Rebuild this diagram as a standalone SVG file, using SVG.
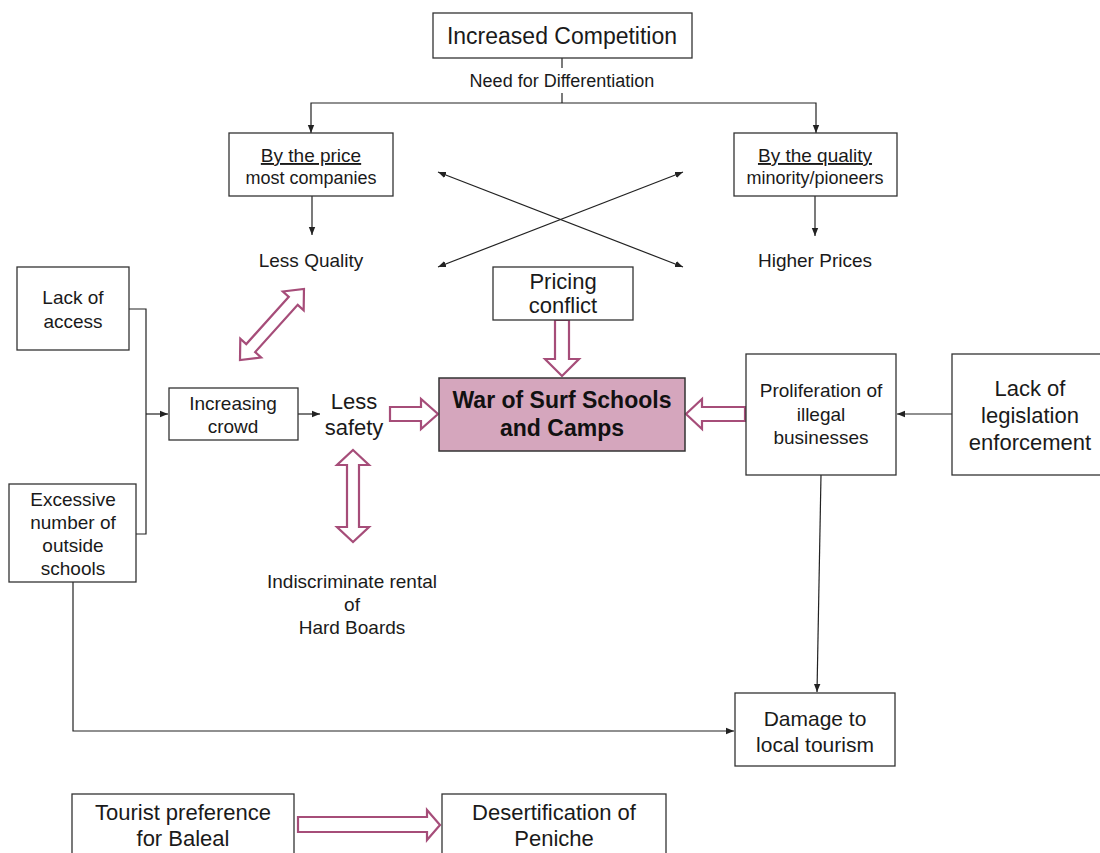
<svg xmlns="http://www.w3.org/2000/svg" width="1100" height="853" viewBox="0 0 1100 853">
  <style>
    .box { fill: #ffffff; stroke: #333333; stroke-width: 1.3; }
    .core { fill: #d5a6bd; stroke: #333333; stroke-width: 1.5; }
    .t { font-family: "Liberation Sans", Arial, sans-serif; fill: #1a1a1a; text-anchor: middle; }
    .tb { font-family: "Liberation Sans", Arial, sans-serif; fill: #111111; text-anchor: middle; font-weight: bold; }
    .ln { fill: none; stroke: #222222; stroke-width: 1.2; }
    .hollow { fill: #ffffff; stroke: #a64d79; stroke-width: 2.2; stroke-linejoin: miter; }
  </style>
  <defs>
    <marker id="ah" viewBox="0 0 10 10" refX="10" refY="5" markerWidth="8" markerHeight="8" markerUnits="userSpaceOnUse" orient="auto-start-reverse">
      <path d="M0,1 L10,5 L0,9 Z" fill="#222222"/>
    </marker>
  </defs>
  <rect width="1100" height="853" fill="#ffffff"/>

  <!-- connectors -->
  <g id="connectors">
    <path class="ln" d="M562,58 V68"/>
    <path class="ln" d="M562,93 V103"/>
    <path class="ln" d="M311,133 V103 H816 V133" marker-start="url(#ah)" marker-end="url(#ah)"/>
    <path class="ln" d="M312,196 V235" marker-end="url(#ah)"/>
    <path class="ln" d="M815,196 V236" marker-end="url(#ah)"/>
    <path class="ln" d="M438,172 L683,267" marker-start="url(#ah)" marker-end="url(#ah)"/>
    <path class="ln" d="M438,267 L683,172" marker-start="url(#ah)" marker-end="url(#ah)"/>
    <path class="ln" d="M129,309 H146 V534 H136"/>
    <path class="ln" d="M146,414 H168" marker-end="url(#ah)"/>
    <path class="ln" d="M298,414 H320" marker-end="url(#ah)"/>
    <path class="ln" d="M952,414 H897" marker-end="url(#ah)"/>
    <path class="ln" d="M821,475 L817,692" marker-end="url(#ah)"/>
    <path class="ln" d="M73,582 V731 H734" marker-end="url(#ah)"/>

    <!-- hollow block arrows -->
    <polygon class="hollow" points="390,407 421,407 421,399 438,414 421,429 421,421 390,421"/>
    <polygon class="hollow" points="745,407 702,407 702,399 686,414 702,429 702,421 745,421"/>
    <polygon class="hollow" points="555,320 569,320 569,359 579,359 562,376 545,359 555,359"/>
    <polygon class="hollow" points="298,817 427,817 427,810 440,825 427,840 427,832 298,832"/>
    <polygon class="hollow" points="353,450 369,465 359,465 359,527 369,527 353,542 337,527 347,527 347,465 337,465"/>
    <g transform="translate(240,360) rotate(-48)">
      <polygon class="hollow" points="0,0 16,-14 16,-6 79.6,-6 79.6,-14 95.6,0 79.6,14 79.6,6 16,6 16,14"/>
    </g>
  </g>

  <g id="increased-competition">
    <rect class="box" x="433" y="13" width="259" height="45"/>
    <text class="t" x="562" y="44" font-size="23">Increased Competition</text>
  </g>
  <g id="need-differentiation">
    <text class="t" x="562" y="87" font-size="18">Need for Differentiation</text>
  </g>

  <g id="by-price">
    <rect class="box" x="229" y="133" width="164" height="63"/>
    <text class="t" x="311" y="162" font-size="19" text-decoration="underline">By the price</text>
    <text class="t" x="311" y="184" font-size="18">most companies</text>
  </g>
  <g id="by-quality">
    <rect class="box" x="734" y="133" width="163" height="63"/>
    <text class="t" x="815" y="162" font-size="19" text-decoration="underline">By the quality</text>
    <text class="t" x="815" y="184" font-size="18">minority/pioneers</text>
  </g>

  <g id="less-quality">
    <text class="t" x="311" y="267" font-size="19">Less Quality</text>
  </g>
  <g id="higher-prices">
    <text class="t" x="815" y="267" font-size="19">Higher Prices</text>
  </g>

  <g id="pricing-conflict">
    <rect class="box" x="493" y="267" width="140" height="53"/>
    <text class="t" x="563" y="289" font-size="22">Pricing</text>
    <text class="t" x="563" y="313" font-size="22">conflict</text>
  </g>

  <g id="war">
    <rect class="core" x="439" y="378" width="246" height="73"/>
    <text class="tb" x="562" y="408" font-size="23">War of Surf Schools</text>
    <text class="tb" x="562" y="436" font-size="23">and Camps</text>
  </g>

  <g id="lack-access">
    <rect class="box" x="17" y="267" width="112" height="83"/>
    <text class="t" x="73" y="304" font-size="19">Lack of</text>
    <text class="t" x="73" y="328" font-size="19">access</text>
  </g>

  <g id="excessive-schools">
    <rect class="box" x="9" y="484" width="127" height="98"/>
    <text class="t" x="73" y="506" font-size="19">Excessive</text>
    <text class="t" x="73" y="529" font-size="19">number of</text>
    <text class="t" x="73" y="552" font-size="19">outside</text>
    <text class="t" x="73" y="575" font-size="19">schools</text>
  </g>

  <g id="increasing-crowd">
    <rect class="box" x="169" y="388" width="129" height="52"/>
    <text class="t" x="233" y="410" font-size="19">Increasing</text>
    <text class="t" x="233" y="433" font-size="19">crowd</text>
  </g>

  <g id="less-safety">
    <text class="t" x="354" y="409" font-size="22">Less</text>
    <text class="t" x="354" y="435" font-size="22">safety</text>
  </g>

  <g id="hard-boards">
    <text class="t" x="352" y="588" font-size="19">Indiscriminate rental</text>
    <text class="t" x="352" y="611" font-size="19">of</text>
    <text class="t" x="352" y="634" font-size="19">Hard Boards</text>
  </g>

  <g id="illegal-businesses">
    <rect class="box" x="746" y="354" width="150" height="121"/>
    <text class="t" x="821" y="397" font-size="19">Proliferation of</text>
    <text class="t" x="821" y="421" font-size="19">illegal</text>
    <text class="t" x="821" y="444" font-size="19">businesses</text>
  </g>

  <g id="legislation">
    <rect class="box" x="952" y="354" width="156" height="121"/>
    <text class="t" x="1030" y="396" font-size="22">Lack of</text>
    <text class="t" x="1030" y="423" font-size="22">legislation</text>
    <text class="t" x="1030" y="450" font-size="22">enforcement</text>
  </g>

  <g id="damage-tourism">
    <rect class="box" x="735" y="693" width="160" height="73"/>
    <text class="t" x="815" y="726" font-size="21">Damage to</text>
    <text class="t" x="815" y="752" font-size="21">local tourism</text>
  </g>

  <g id="tourist-preference">
    <rect class="box" x="72" y="794" width="222" height="70"/>
    <text class="t" x="183" y="820" font-size="22">Tourist preference</text>
    <text class="t" x="183" y="846" font-size="22">for Baleal</text>
  </g>

  <g id="desertification">
    <rect class="box" x="442" y="794" width="224" height="70"/>
    <text class="t" x="554" y="820" font-size="22">Desertification of</text>
    <text class="t" x="554" y="846" font-size="22">Peniche</text>
  </g>
</svg>
